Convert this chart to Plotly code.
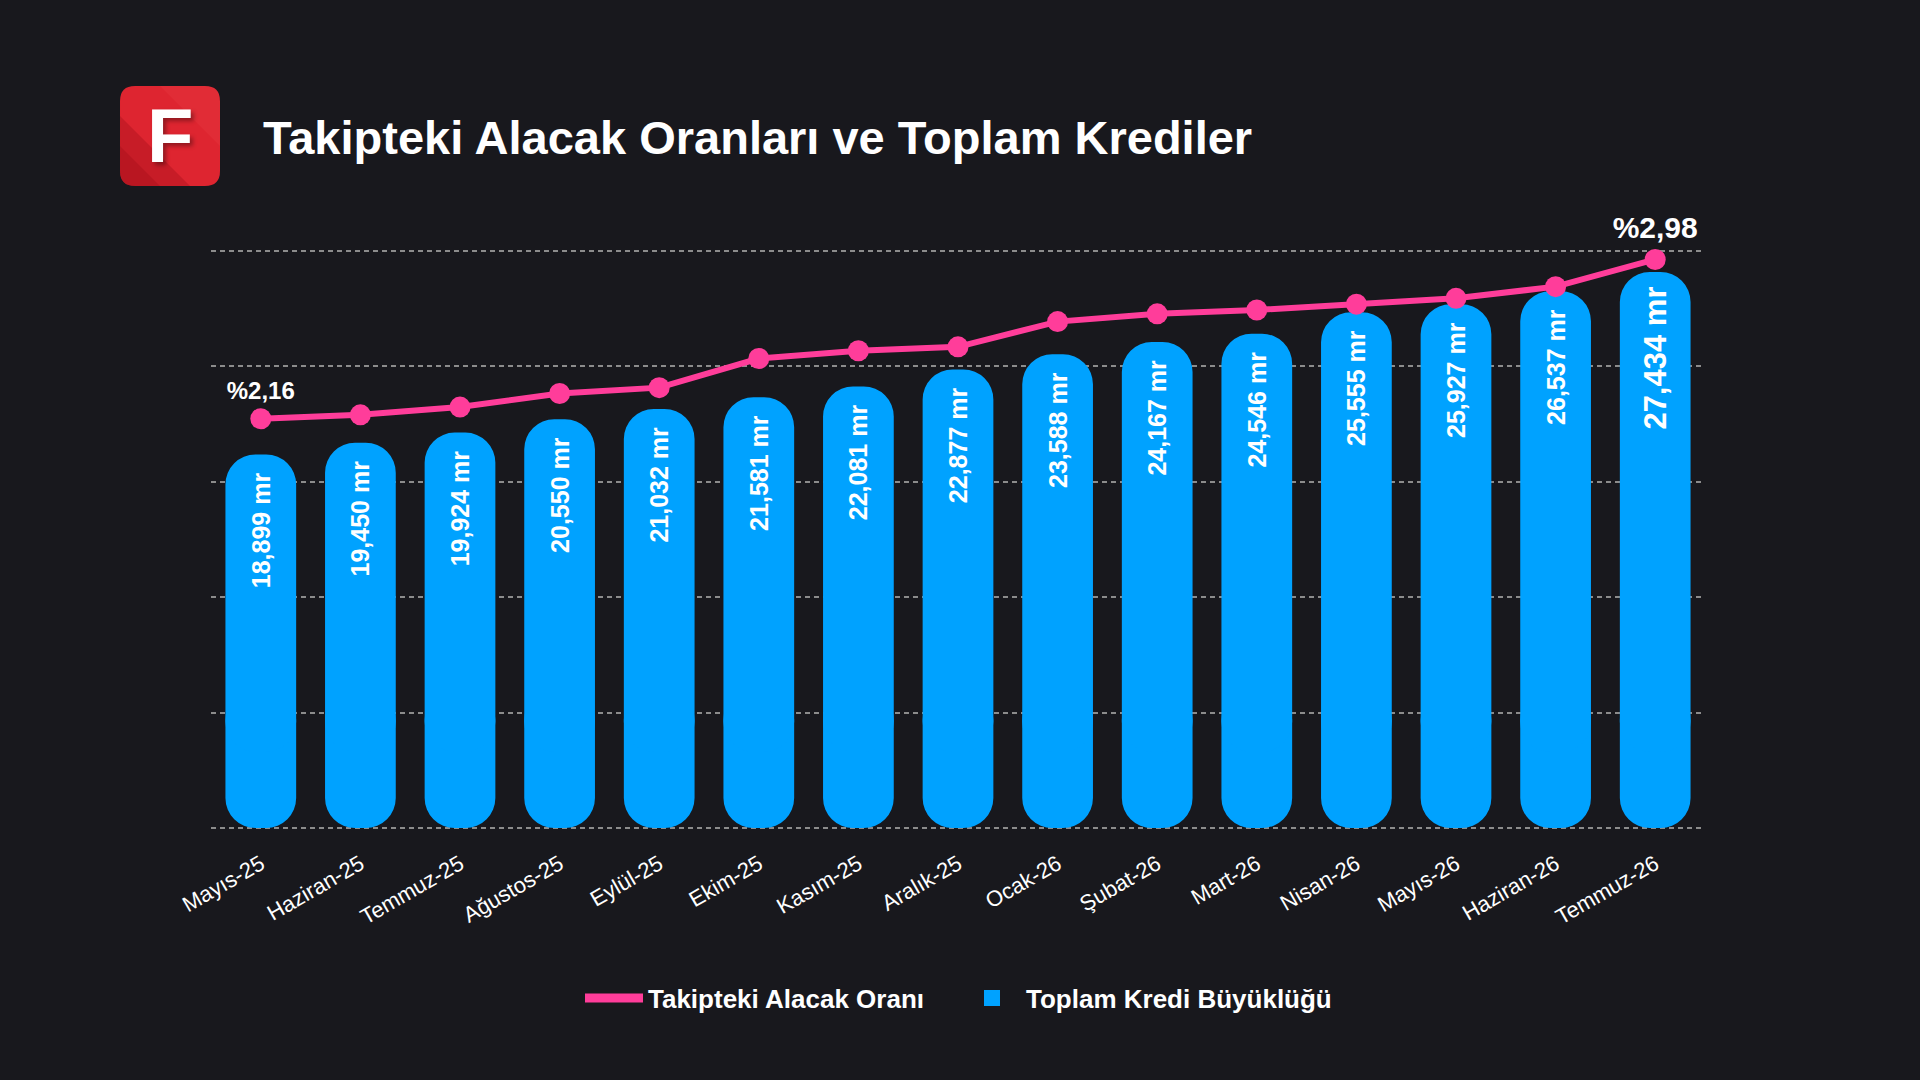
import plotly.graph_objects as go

# data
months = ["Mayıs-25", "Haziran-25", "Temmuz-25", "Ağustos-25", "Eylül-25", "Ekim-25",
          "Kasım-25", "Aralık-25", "Ocak-26", "Şubat-26", "Mart-26", "Nisan-26",
          "Mayıs-26", "Haziran-26", "Temmuz-26"]
kredi = [18899, 19450, 19924, 20550, 21032, 21581, 22081, 22877, 23588, 24167,
         24546, 25555, 25927, 26537, 27434]  # milyar TL
oran = [2.16, 2.18, 2.22, 2.29, 2.32, 2.47, 2.51, 2.53, 2.66, 2.70, 2.72, 2.75,
        2.78, 2.84, 2.98]  # %

BG = "#18181d"
BLUE = "#00a2ff"
PINK = "#ff3d9a"
GRID = "#8c8c8c"
FONT = "Liberation Sans, Arial, sans-serif"

# bars have rounded ends on both sides: an upper piece rounded at the top and a
# lower piece rounded at the bottom, overlapping well in the middle
BAR_FLOOR = 1431
BAR_TOP_GRID = 28419
SPLIT_LO, SPLIT_HI = 5000, 7900
Y_RANGE = [1010, 28840]
Y2_RANGE = [0.006, 3.070]

n = len(months)
nb = "\u00a0"
bar_text = [f"{v:,} mr" + nb * 2 for v in kredi]
bar_text[-1] = f"{kredi[-1]:,} mr" + nb
bar_font = [25] * (n - 1) + [31]
line_text = [""] * n
line_text[0] = "%" + f"{oran[0]:.2f}".replace(".", ",")
line_text[-1] = "%" + f"{oran[-1]:.2f}".replace(".", ",")
line_font = [24] * (n - 1) + [30]

fig = go.Figure()

fig.add_trace(go.Bar(
    x=months, y=[BAR_FLOOR - SPLIT_HI] * n, base=[SPLIT_HI] * n,
    marker=dict(color=BLUE, line=dict(width=0), cornerradius=30, opacity=1),
    showlegend=False, hoverinfo="skip"))
fig.add_trace(go.Bar(
    x=months, y=[v - SPLIT_LO for v in kredi], base=[SPLIT_LO] * n,
    marker=dict(color=BLUE, line=dict(width=0), cornerradius=30, opacity=1),
    text=bar_text, textposition="inside", insidetextanchor="end", textangle=-90,
    textfont=dict(family=FONT, size=bar_font, color="white", weight="bold"),
    customdata=kredi, hovertemplate="%{x}: %{customdata:,} mr<extra></extra>",
    showlegend=False))

fig.add_trace(go.Scatter(
    x=months, y=oran, yaxis="y2", mode="lines+markers+text",
    line=dict(color=PINK, width=6), marker=dict(color=PINK, size=21),
    text=line_text, textposition="top center", cliponaxis=False,
    textfont=dict(family=FONT, size=line_font, color="white", weight="bold"),
    showlegend=False))

# legend entries only
fig.add_trace(go.Scatter(x=[None], y=[None], mode="lines", name="Takipteki Alacak Oranı",
                         line=dict(color=PINK, width=9)))
fig.add_trace(go.Scatter(x=[None], y=[None], mode="markers", name="Toplam Kredi Büyüklüğü",
                         marker=dict(color=BLUE, size=16, symbol="square")))

fig.update_layout(
    width=1920, height=1080,
    margin=dict(l=211, r=215, t=242, b=243),
    paper_bgcolor=BG, plot_bgcolor=BG,
    font=dict(family=FONT, color="white"),
    barmode="overlay", bargap=0.29,
    xaxis=dict(range=[-0.5, n - 0.5], showgrid=False, showline=False, zeroline=False,
               tickangle=-30, tickfont=dict(size=22, color="white"), ticks="",
               ticklabelstandoff=9),
    yaxis=dict(range=Y_RANGE, tick0=BAR_FLOOR, dtick=(BAR_TOP_GRID - BAR_FLOOR) / 5,
               showgrid=True, gridcolor=GRID, gridwidth=1.5, griddash="5px,4px",
               showticklabels=False, zeroline=False, showline=False),
    yaxis2=dict(range=Y2_RANGE, overlaying="y", showgrid=False, showticklabels=False,
                zeroline=False, showline=False),
    legend=dict(orientation="h", x=0.5, xanchor="center", y=-0.2706, yanchor="middle",
                font=dict(size=26, color="white", weight="bold"), bgcolor="rgba(0,0,0,0)",
                itemwidth=58, entrywidth=305),
    showlegend=True,
)

# logo: rounded red square, a darker lower-left wash and a white "F"
LOGO_X, LOGO_Y = -0.02744, 1.1782
logo_paths = [
    ("M -35,-50 L 35,-50 Q 50,-50 50,-35 L 50,35 Q 50,50 35,50 L -35,50 "
     "Q -50,50 -50,35 L -50,-35 Q -50,-50 -35,-50 Z", "#de2530"),
    ("M -50,20 L 20,-50 L -35,-50 Q -50,-50 -50,-35 Z", "rgba(120,0,10,0.22)"),
    ("M -50,-10 L -10,-50 L -35,-50 Q -50,-50 -50,-35 Z", "rgba(120,0,10,0.18)"),
    ("M 50,-10 L -10,50 L 35,50 Q 50,50 50,35 Z", "rgba(255,110,110,0.10)"),
]
for p, col in logo_paths:
    fig.add_shape(type="path", xref="paper", yref="paper", xsizemode="pixel",
                  ysizemode="pixel", xanchor=LOGO_X, yanchor=LOGO_Y, path=p,
                  fillcolor=col, line=dict(width=0))
fig.add_annotation(x=LOGO_X, y=LOGO_Y, xref="paper", yref="paper", text="F",
                   showarrow=False, xanchor="center", yanchor="middle",
                   font=dict(size=76, color="white", weight="bold",
                             shadow="3px 3px 4px rgba(0,0,0,0.35)"))

fig.add_annotation(x=0.0335, y=1.1748, xref="paper", yref="paper",
                   text="Takipteki Alacak Oranları ve Toplam Krediler",
                   showarrow=False, xanchor="left", yanchor="middle",
                   font=dict(size=47, color="white", weight="bold"))

fig.write_html("out.html", config={"displayModeBar": False},
               post_script="document.body.style.margin='0';"
                           "document.body.style.background='#18181d';")
